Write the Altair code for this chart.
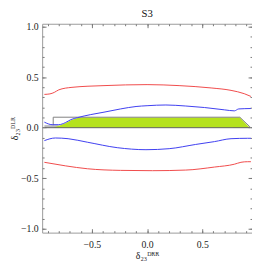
import altair as alt
import pandas as pd

# ---- data ----
red_up_x = [-0.93, -0.88, -0.84, -0.80, -0.68, -0.39, 0.0, 0.29, 0.58, 0.76, 0.88, 0.94]
red_up_y = [0.33, 0.335, 0.35, 0.375, 0.40, 0.417, 0.427, 0.417, 0.394, 0.37, 0.337, 0.31]

red_lo_x = [-0.93, -0.74, -0.54, -0.24, 0.05, 0.35, 0.61, 0.79, 0.85, 0.91, 0.94]
red_lo_y = [-0.343, -0.378, -0.407, -0.423, -0.426, -0.42, -0.39, -0.362, -0.343, -0.337, -0.337]

blue_up_x = [-0.93, -0.86, -0.80, -0.74, -0.69, -0.63, -0.51, -0.39, -0.24, -0.10, 0.0,
             0.17, 0.35, 0.52, 0.70, 0.79, 0.83, 0.94]
blue_up_y = [0.055, 0.03, 0.03, 0.05, 0.08, 0.10, 0.13, 0.154, 0.186, 0.21, 0.218,
             0.225, 0.215, 0.20, 0.177, 0.167, 0.186, 0.19]

blue_lo_x = [-0.93, -0.83, -0.715, -0.54, -0.27, -0.01, 0.2, 0.44, 0.61, 0.76, 0.91, 0.94]
blue_lo_y = [-0.128, -0.102, -0.109, -0.144, -0.198, -0.218, -0.208, -0.166, -0.138, -0.109, -0.105, -0.105]

green_x = [-0.85, -0.80, -0.74, -0.69, -0.63, -0.58, 0.84, 0.92, 0.93]
green_y = [0.0, 0.02, 0.045, 0.075, 0.095, 0.10, 0.10, 0.01, 0.0]

gray_left_x = [-0.93, -0.80]
gray_left_y = [0.025, 0.025]
gray_right_x = [0.78, 0.93]
gray_right_y = [0.012, 0.012]

outline_x = [-0.85, -0.85, 0.84, 0.93, 0.93]
outline_y = [0.025, 0.104, 0.104, 0.01, 0.0]

base_x = [-0.93, 0.93]
base_y = [0.0, 0.0]

x_major = [-0.5, 0.0, 0.5]
x_minor = [round(-0.9 + 0.1 * i, 1) for i in range(19)]
y_major = [-1.0, -0.5, 0.0, 0.5, 1.0]
y_minor = [round(-1.0 + 0.1 * i, 1) for i in range(21)]

title_text = "S3"
x_title = "δ₂₃ᴰᴿᴿ"
y_title = "δ₂₃ᴰᴸᴿ"

# ---- tables ----
def series(name, xs, ys):
    return pd.DataFrame({"x": xs, "y": ys, "s": name, "order": range(len(xs))})

lines = pd.concat([
    series("red_up", red_up_x, red_up_y),
    series("red_lo", red_lo_x, red_lo_y),
    series("blue_up", blue_up_x, blue_up_y),
    series("blue_lo", blue_lo_x, blue_lo_y),
])
green = pd.DataFrame({"x": green_x, "y": green_y, "b": 0.0})
gray = pd.concat([
    pd.DataFrame({"x": gray_left_x, "y": gray_left_y, "b": 0.0, "g": "l"}),
    pd.DataFrame({"x": gray_right_x, "y": gray_right_y, "b": 0.0, "g": "r"}),
])
outline = pd.DataFrame({"x": outline_x, "y": outline_y, "order": range(len(outline_x))})
base = pd.DataFrame({"x": base_x, "y": base_y})

XD = [-0.95, 0.95]
YD = [-1.04, 1.03]
FONT = "Liberation Serif"
TICK = "#777777"

def xax(values, size, orient, labels=False, title=None, pad=4, tpad=3):
    kw = dict(values=values, tickSize=size, offset=-size, orient=orient, domain=False,
              grid=False, labels=labels, tickColor=TICK, ticks=True)
    if labels:
        kw.update(format=".1f", labelFont=FONT, labelFontSize=10, labelColor="#222222",
                  labelPadding=pad)
    if title:
        kw.update(title=title, titleFont=FONT, titleFontSize=10, titleFontWeight="normal",
                  titleColor="#222222", titlePadding=tpad)
    else:
        kw.update(title=None)
    return alt.Axis(**kw)

def X(axis):
    return alt.X("x:Q", scale=alt.Scale(domain=XD, nice=False, zero=False), axis=axis)

def Y(axis, field="y:Q"):
    return alt.Y(field, scale=alt.Scale(domain=YD, nice=False, zero=False), axis=axis)

gray_layer = alt.Chart(gray).mark_area(color="#b8b8b8").encode(
    x=X(xax(x_minor, 2, "bottom")),
    y=Y(xax(y_minor, 2, "left")),
    y2="b:Q",
    detail="g:N",
)

green_layer = alt.Chart(green).mark_area(color="#b5e21d").encode(
    x=X(xax(x_major, 4, "bottom", labels=True, title=x_title, pad=7, tpad=2)),
    y=Y(xax(y_major, 4, "left", labels=True, title=y_title, pad=4, tpad=1)),
    y2="b:Q",
)

outline_layer = alt.Chart(outline).mark_line(color="#808080", strokeWidth=1).encode(
    x=X(xax(x_major, 4, "top")),
    y=Y(xax(y_major, 4, "right")),
    order="order:Q",
)

base_layer = alt.Chart(base).mark_line(color="#606060", strokeWidth=1).encode(
    x=X(xax(x_minor, 2, "top")),
    y=Y(xax(y_minor, 2, "right")),
)

line_layer = alt.Chart(lines).mark_line(strokeWidth=1, interpolate="monotone").encode(
    x=X(None),
    y=Y(None),
    detail="s:N",
    order="order:Q",
    color=alt.Color("s:N", scale=alt.Scale(
        domain=["red_up", "red_lo", "blue_up", "blue_lo"],
        range=["#f04848", "#f04848", "#3c3cf0", "#3c3cf0"]), legend=None),
)

chart = alt.layer(gray_layer, green_layer, outline_layer, base_layer, line_layer).resolve_axis(
    x="independent", y="independent"
).properties(
    width=215,
    height=214,
    autosize=alt.AutoSizeParams(type="none"),
    padding={"left": 35, "top": 13, "right": 0, "bottom": 30},
    title=alt.TitleParams(title_text, font=FONT, fontSize=11, fontWeight="normal",
                          color="#111111", offset=3, anchor="middle"),
).configure_view(stroke="#999999", strokeWidth=1)

chart.save("out.html", embed_options={"renderer": "svg", "actions": False})
